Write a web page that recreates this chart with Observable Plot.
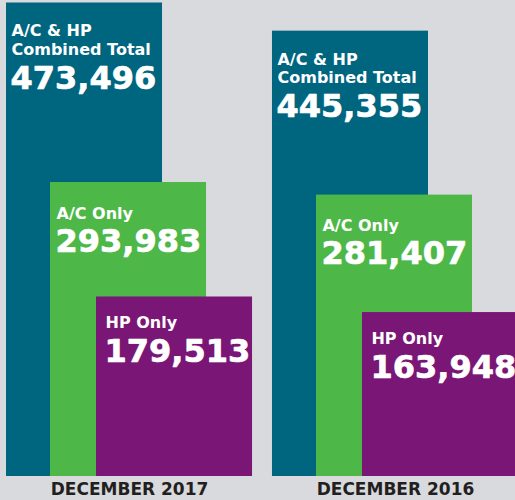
<!DOCTYPE html>
<html><head><meta charset="utf-8">
<script src="https://cdn.jsdelivr.net/npm/d3@7"></script>
<script src="https://cdn.jsdelivr.net/npm/@observablehq/plot@0.6"></script>
<style>
html,body{margin:0;padding:0;background:#d8dadd;overflow:hidden;}
#chart{width:515px;height:500px;overflow:hidden;}
</style>
</head><body><div id="chart"></div>
<script>
const months = ["DECEMBER 2017", "DECEMBER 2016"];
const seriesNames = ["A/C & HP\nCombined Total", "A/C Only", "HP Only"];
const combinedTotal = [473496, 445355];
const acOnly = [293983, 281407];
const hpOnly = [179513, 163948];
const seriesValues = [combinedTotal, acOnly, hpOnly];
const colors = ["#00657f", "#4db848", "#7a1675"];

// layout constants (pixel units inside each month band)
const barWidth = 156;
const offsets = [0, 44, 90];
const titleDy = [52, 36, 31];
const valueDy = [86, 69, 65];
const textDx = [5, 6, 9];

const data = months.flatMap((month, m) =>
  seriesNames.map((s, k) => ({month, series: s, k, value: seriesValues[k][m]})));
const fmt = d3.format(",");

const marks = [];
seriesNames.forEach((s, k) => {
  const sub = data.filter(d => d.k === k);
  marks.push(Plot.rect(sub, {
    fx: "month", x1: () => offsets[k], x2: () => offsets[k] + barWidth,
    y1: () => 0, y2: "value", fill: colors[k]
  }));
  marks.push(Plot.text(sub, {
    fx: "month", x: () => offsets[k], y: "value", text: "series",
    textAnchor: "start", lineAnchor: "bottom", dx: textDx[k], dy: titleDy[k],
    fill: "white", fontSize: 16, fontWeight: "bold", lineHeight: 1.16
  }));
  marks.push(Plot.text(sub, {
    fx: "month", x: () => offsets[k], y: "value", text: d => fmt(d.value),
    textAnchor: "start", lineAnchor: "bottom", dx: textDx[k] - 1, dy: valueDy[k],
    fill: "white", stroke: "white", strokeWidth: 0.7, fontSize: 32, fontWeight: "bold"
  }));
});
marks.push(Plot.axisFx({anchor: "bottom", tickSize: 0, tickPadding: 6, label: null,
  fontSize: 17, fontWeight: "bold", fill: "#231f20"}));

const chart = Plot.plot({
  width: 518, height: 500,
  marginLeft: 6, marginRight: 0, marginTop: 0, marginBottom: 24,
  style: {background: "#d8dadd", fontFamily: "DejaVu Sans", maxWidth: "none", overflow: "hidden"},
  fx: {domain: months, paddingInner: 0.075, paddingOuter: 0, round: false, label: null},
  x: {domain: [0, 246], axis: null},
  y: {domain: [0, 476000], axis: null},
  marks
});
document.getElementById("chart").appendChild(chart);
</script>
</body></html>
